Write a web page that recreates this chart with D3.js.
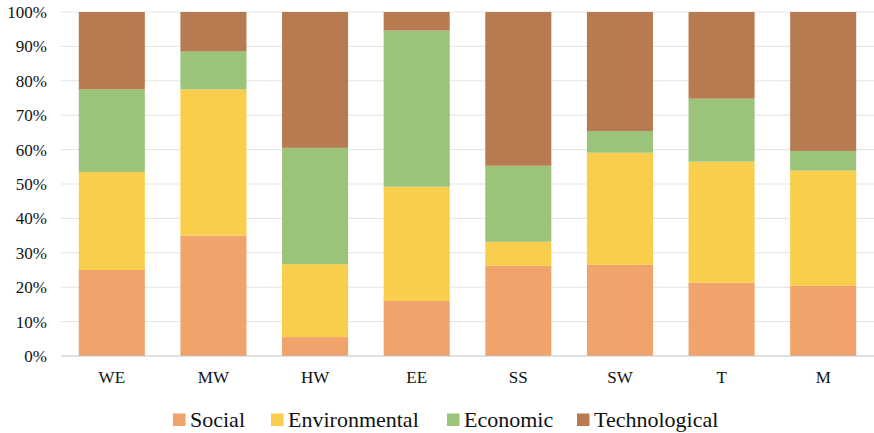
<!DOCTYPE html>
<html>
<head>
<meta charset="utf-8">
<script src="https://cdn.jsdelivr.net/npm/d3@7"></script>
<style>
  html, body { margin: 0; padding: 0; background: #fff; }
  svg { display: block; }
  svg text { font-family: "Liberation Serif", "Times New Roman", Times, "DejaVu Serif", serif !important; }
</style>
</head>
<body>
<svg id="chart" width="874" height="433"></svg>
<script>
// Share of each dimension per category (percent, stacked to 100)
const categories = ["WE", "MW", "HW", "EE", "SS", "SW", "T", "M"];
const seriesNames = ["Social", "Environmental", "Economic", "Technological"];
const social        = [25.0, 35.0,  5.5, 16.0, 26.2, 26.5, 21.3, 20.4];
const environmental = [28.5, 42.5, 21.2, 33.2,  7.0, 32.6, 35.2, 33.5];
const economic      = [24.0, 11.0, 33.8, 45.4, 22.1,  6.3, 18.3,  5.7];
const technological = [22.5, 11.5, 39.5,  5.4, 44.7, 34.6, 25.2, 40.4];
const yTicks = [0, 10, 20, 30, 40, 50, 60, 70, 80, 90, 100];

const colors = {
  Social: "#F0A36A",
  Environmental: "#F9CE4C",
  Economic: "#9BC47A",
  Technological: "#B77B51"
};

const rows = categories.map((c, i) => ({
  cat: c,
  Social: social[i],
  Environmental: environmental[i],
  Economic: economic[i],
  Technological: technological[i]
}));

const svg = d3.select("#chart");
const margin = { left: 61, right: 0, top: 12, bottom: 77 };
const W = 874, H = 433;

const x = d3.scaleBand()
  .domain(categories)
  .range([margin.left, W - margin.right])
  .paddingInner(0.35)
  .paddingOuter(0.175);

const y = d3.scaleLinear()
  .domain([0, 100])
  .range([H - margin.bottom, margin.top]);

// Horizontal gridlines
svg.append("g")
  .selectAll("line")
  .data(yTicks.filter(d => d > 0))
  .join("line")
  .attr("x1", margin.left)
  .attr("x2", W - margin.right)
  .attr("y1", d => y(d))
  .attr("y2", d => y(d))
  .attr("stroke", "#e3e3e3")
  .attr("stroke-width", 1);

// Stacked bars
const stack = d3.stack().keys(seriesNames);
const layers = stack(rows);

svg.append("g")
  .selectAll("g")
  .data(layers)
  .join("g")
  .attr("fill", d => colors[d.key])
  .selectAll("rect")
  .data(d => d)
  .join("rect")
  .attr("x", d => x(d.data.cat))
  .attr("width", x.bandwidth())
  .attr("y", d => y(d[1]))
  .attr("height", d => y(d[0]) - y(d[1]));

// Baseline axis
svg.append("line")
  .attr("x1", margin.left)
  .attr("x2", W - margin.right)
  .attr("y1", y(0))
  .attr("y2", y(0))
  .attr("stroke", "#c4c4c4")
  .attr("stroke-width", 1.2);

// Y axis labels
const yAxis = d3.axisLeft(y)
  .tickValues(yTicks)
  .tickFormat(d => d + "%")
  .tickSize(0)
  .tickPadding(14);

const gy = svg.append("g")
  .attr("transform", `translate(${margin.left},0)`)
  .call(yAxis);
gy.select(".domain").remove();
gy.selectAll("text")
  .attr("font-size", 17)
  .attr("fill", "#111");

// X axis labels
const xAxis = d3.axisBottom(x).tickSize(0).tickPadding(15);
const gx = svg.append("g")
  .attr("transform", `translate(0,${y(0)})`)
  .call(xAxis);
gx.select(".domain").remove();
gx.selectAll("text")
  .attr("font-size", 17)
  .attr("fill", "#111");

// Legend
const legendX = [173, 271, 447, 577];
const legend = svg.append("g")
  .selectAll("g")
  .data(seriesNames)
  .join("g")
  .attr("transform", (d, i) => `translate(${legendX[i]},420)`);

legend.append("rect")
  .attr("x", 0)
  .attr("y", -6.5)
  .attr("width", 12.5)
  .attr("height", 12.5)
  .attr("fill", d => colors[d]);

legend.append("text")
  .attr("x", 17)
  .attr("y", 0)
  .attr("dy", "0.32em")
  .attr("font-size", 22)
  .attr("fill", "#111")
  .text(d => d);
</script>
</body>
</html>
